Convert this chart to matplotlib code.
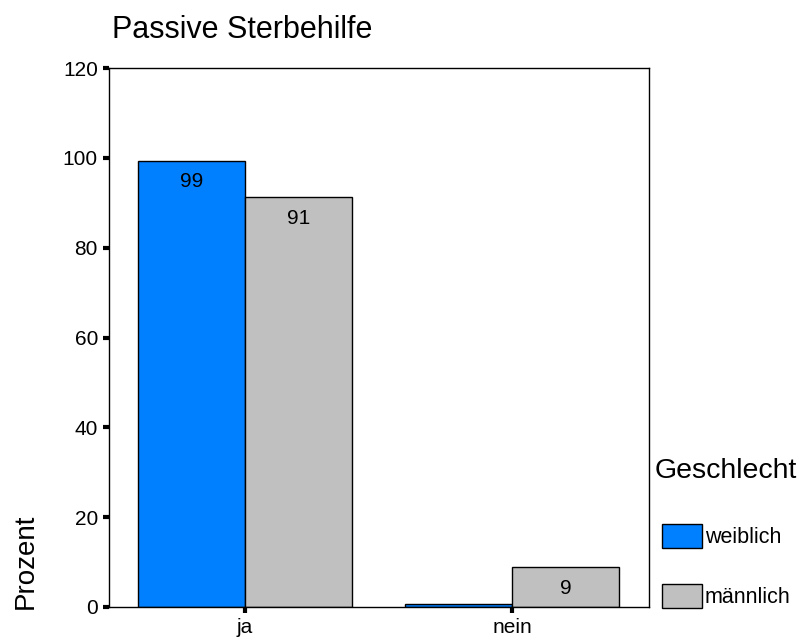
import numpy as np
import matplotlib
matplotlib.use("Agg")
import matplotlib.pyplot as plt

plt.rcParams['font.family'] = ['Liberation Sans', 'DejaVu Sans']

# Prozentwerte je Antwort und Geschlecht
antworten = ['ja', 'nein']
weiblich = [99.4, 0.6]
maennlich = [91.2, 8.8]
gruppen = ['weiblich', 'männlich']
farben = ['#0080ff', '#c0c0c0']

fig = plt.figure(figsize=(7.99, 6.43), dpi=100)
ax = fig.add_axes([109 / 799, 1 - 607 / 643, 540 / 799, 539 / 643])

x = np.arange(len(antworten))
breite = 0.4
b1 = ax.bar(x - breite / 2, weiblich, breite, color=farben[0], edgecolor='black', linewidth=1, label=gruppen[0])
b2 = ax.bar(x + breite / 2, maennlich, breite, color=farben[1], edgecolor='black', linewidth=1, label=gruppen[1])

# Werte in die Balken schreiben (nur wenn gross genug)
for bars, werte in [(b1, weiblich), (b2, maennlich)]:
    for bar, w in zip(bars, werte):
        if w >= 5:
            ax.text(bar.get_x() + bar.get_width() / 2, w - 4.6, f"{w:.0f}",
                    ha='center', va='center', fontsize=15)

ax.set_xlim(-0.51, 1.513)
ax.set_ylim(0, 120)
ax.set_yticks(range(0, 121, 20))
ax.set_xticks(x)
ax.set_xticklabels(antworten)
ax.tick_params(axis='both', length=4, width=3, labelsize=15, pad=4)
for s in ax.spines.values():
    s.set_linewidth(1)

fig.text(112 / 799, 1 - 30 / 643, 'Passive Sterbehilfe', fontsize=22, ha='left', va='center')
fig.text(26 / 799, 1 - 561 / 643, 'Prozent', fontsize=20, rotation=90, ha='center', va='center')

# Legende: Titel separat, Eintraege darunter
fig.text(655 / 799, 1 - 471 / 643, 'Geschlecht', fontsize=20.5, ha='left', va='center')
leg = fig.legend(handles=[b1, b2], loc='upper left',
                 bbox_to_anchor=(662 / 799, 1 - 524 / 643), frameon=False,
                 fontsize=15.5, handlelength=1.85, handleheight=1.35,
                 handletextpad=0.15, labelspacing=1.65, borderpad=0, borderaxespad=0)

fig.savefig('out.png', dpi=100)
